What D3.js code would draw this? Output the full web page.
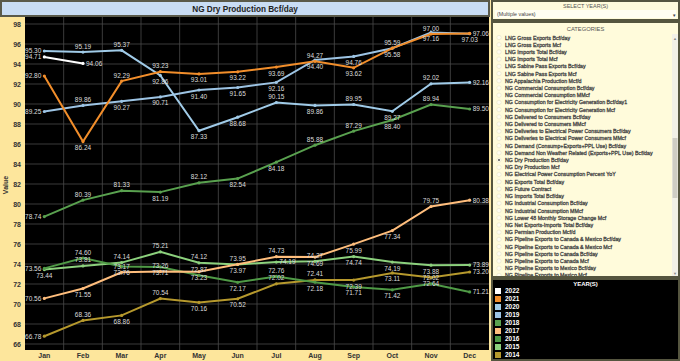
<!DOCTYPE html>
<html>
<head>
<meta charset="utf-8">
<script src="https://cdn.jsdelivr.net/npm/d3@7"></script>
<style>
    body { margin: 0; background: #fde9a6; }
    #chart { width: 680px; height: 361px; }
    text { font-family: Arial, "Liberation Sans", sans-serif; }
</style>
</head>
<body>
<div id="chart"></div>
<script>
// ---- data ----
const months = ["Jan", "Feb", "Mar", "Apr", "May", "Jun", "Jul", "Aug", "Sep", "Oct", "Nov", "Dec"];
const years = ["2022", "2021", "2020", "2019", "2018", "2017", "2016", "2015", "2014"];

const production2022 = [94.71, 94.06];
const production2021 = [92.80, 86.24, 92.29, 93.23, 93.01, 93.22, 93.69, 94.27, 93.62, 95.59, 97.00, 97.06];
const production2020 = [95.30, 95.19, 95.37, 92.86, 87.33, 88.68, 90.15, 89.86, 89.95, 89.27, 92.02, 92.16];
const production2019 = [89.25, 89.86, 90.27, 90.71, 91.40, 91.65, 92.16, 94.40, 94.76, 95.58, 97.16, 97.03];
const production2018 = [78.74, 80.39, 81.33, 81.19, 82.12, 82.54, 84.18, 85.88, 87.29, 88.40, 89.94, 89.50];
const production2017 = [70.56, 71.55, 73.17, 73.26, 73.23, 73.97, 74.73, 74.69, 75.99, 77.34, 79.75, 80.38];
const production2016 = [73.56, 74.60, 73.76, 73.71, 72.87, 72.17, 72.76, 72.18, 71.71, 71.42, 72.02, 71.21];
const production2015 = [73.44, 73.81, 74.14, 75.21, 74.12, 73.95, 74.19, 74.27, 74.74, 74.19, 73.88, 73.89];
const production2014 = [66.78, 68.36, 68.86, 70.54, 70.16, 70.52, 72.02, 72.41, 72.39, 73.11, 72.64, 73.20];

const yTicks = [66, 68, 70, 72, 74, 76, 78, 80, 82, 84, 86, 88, 90, 92, 94, 96, 98];

const categories = [
    "LNG Gross Exports Bcf/day", "LNG Gross Exports Mcf", "LNG Imports Total Bcf/day", "LNG Imports Total Mcf",
    "LNG Sabine Pass Exports Bcf/day", "LNG Sabine Pass Exports Mcf", "NG Appalachia Production Mcf/d",
    "NG Commercial Consumption Bcf/day", "NG Commercial Consumption MMcf",
    "NG Consumption for Electricity Generation Bcf/day1", "NG Consumption for Electricity Generation Mcf",
    "NG Delivered to Consumers Bcf/day", "NG Delivered to Consumers MMcf",
    "NG Deliveries to Electrical Power Consumers Bcf/day", "NG Deliveries to Electrical Power Consumers MMcf",
    "NG Demand (Consump+Exports+PPL Use) Bcf/day", "NG Demand Non Weather Related (Exports+PPL Use) Bcf/day",
    "NG Dry Production Bcf/day", "NG Dry Production Mcf", "NG Electrical Power Consumption Percent YoY",
    "NG Exports Total Bcf/day", "NG Future Contract", "NG Imports Total Bcf/day",
    "NG Industrial Consumption Bcf/day", "NG Industrial Consumption MMcf", "NG Lower 48 Monthly Storage Change Mcf",
    "NG Net Exports-Imports Total Bcf/day", "NG Permian Production Mcf/d",
    "NG Pipeline Exports to Canada & Mexico Bcf/day", "NG Pipeline Exports to Canada & Mexico Mcf",
    "NG Pipeline Exports to Canada Bcf/day", "NG Pipeline Exports to Canada Mcf",
    "NG Pipeline Exports to Mexico Bcf/day", "NG Pipeline Exports to Mexico Mcf"
];
const selectedCategory = "NG Dry Production Bcf/day";

const seriesValues = [production2022, production2021, production2020, production2019, production2018,
    production2017, production2016, production2015, production2014];
const yearColors = ["#ffffff", "#f28e2b", "#a0cbe8", "#9dc4e4", "#59a14f", "#ffbe7d", "#4f9a46", "#8cd17d", "#b6992d"];

class productionDashboard {
    constructor(parentElement) {
        this.parentElement = parentElement;
        this.initVis();
    }

    initVis() {
        let vis = this;

        vis.plot = {left: 25, right: 489, top: 17, bottom: 350};

        vis.svg = d3.select("#" + vis.parentElement).append("svg")
            .attr("width", 680)
            .attr("height", 361);

        // left panel + yellow axis strips
        vis.svg.append("rect")
            .attr("x", 0).attr("y", 0).attr("width", 490).attr("height", 361)
            .attr("fill", "#fde69c");
        vis.svg.append("rect")
            .attr("x", vis.plot.left).attr("y", vis.plot.top)
            .attr("width", vis.plot.right - vis.plot.left)
            .attr("height", vis.plot.bottom - vis.plot.top)
            .attr("fill", "#000");

        // title bar
        vis.svg.append("rect")
            .attr("x", 1).attr("y", 1).attr("width", 488).attr("height", 15)
            .attr("fill", "#c9ddf4")
            .attr("stroke", "#5a5a4a").attr("stroke-width", 2);
        vis.svg.append("text")
            .attr("x", 245).attr("y", 11.8)
            .attr("text-anchor", "middle")
            .style("font-size", "8.2px").style("font-weight", "bold")
            .attr("fill", "#222")
            .text("NG Dry Production Bcf/day");

        // scales
        vis.xScale = d3.scaleBand().domain(months).range([vis.plot.left, vis.plot.right]);
        vis.yScale = d3.scaleLinear().domain([65.4, 98.7]).range([vis.plot.bottom, vis.plot.top]);

        // grid
        vis.svg.append("g").selectAll("line")
            .data(yTicks).enter().append("line")
            .attr("x1", vis.plot.left).attr("x2", vis.plot.right)
            .attr("y1", d => vis.yScale(d)).attr("y2", d => vis.yScale(d))
            .attr("stroke", "#4a4a4a").attr("stroke-width", 0.8);
        vis.svg.append("g").selectAll("line")
            .data(months.slice(1)).enter().append("line")
            .attr("x1", d => vis.xScale(d)).attr("x2", d => vis.xScale(d))
            .attr("y1", vis.plot.top).attr("y2", vis.plot.bottom)
            .attr("stroke", "#4a4a4a").attr("stroke-width", 0.8);

        // axes
        let yAxis = vis.svg.append("g")
            .attr("transform", `translate(${vis.plot.left},0)`)
            .call(d3.axisLeft(vis.yScale).tickValues(yTicks).tickSize(0).tickPadding(4));
        let xAxis = vis.svg.append("g")
            .attr("transform", `translate(0,${vis.plot.bottom})`)
            .call(d3.axisBottom(vis.xScale).tickSize(0).tickPadding(3));
        [yAxis, xAxis].forEach(ax => {
            ax.select(".domain").remove();
            ax.selectAll("text")
                .style("font-size", "7px").style("font-weight", "bold")
                .style("font-family", "Arial, 'Liberation Sans', sans-serif")
                .attr("fill", "#333");
        });

        vis.svg.append("text")
            .attr("transform", "rotate(-90)")
            .attr("x", -185).attr("y", 8)
            .attr("text-anchor", "middle")
            .style("font-size", "7px").style("font-weight", "bold")
            .attr("fill", "#333")
            .text("Value");

        vis.drawPanels();
        vis.wrangleData();
    }

    drawPanels() {
        let vis = this;
        let px = 492, pw = 187, border = "#55553f";

        // select year(s)
        vis.svg.append("rect")
            .attr("x", px).attr("y", 1).attr("width", pw).attr("height", 19)
            .attr("fill", "#fffbdb").attr("stroke", border).attr("stroke-width", 2);
        vis.svg.append("text")
            .attr("x", px + pw / 2).attr("y", 7.5).attr("text-anchor", "middle")
            .style("font-size", "5.5px").attr("fill", "#555")
            .text("SELECT YEAR(S)");
        vis.svg.append("rect")
            .attr("x", px + 3).attr("y", 10).attr("width", pw - 6).attr("height", 8)
            .attr("fill", "#fffef2");
        vis.svg.append("text")
            .attr("x", px + 5).attr("y", 16).style("font-size", "5.3px").attr("fill", "#444")
            .text("(Multiple values)");
        vis.svg.append("text")
            .attr("x", px + pw - 7).attr("y", 16.5).style("font-size", "4.5px").attr("fill", "#444")
            .text("▼");

        // categories
        vis.svg.append("rect")
            .attr("x", px).attr("y", 22).attr("width", pw).attr("height", 255)
            .attr("fill", "#fffbdb").attr("stroke", border).attr("stroke-width", 2);
        vis.svg.append("text")
            .attr("x", px + pw / 2).attr("y", 31).attr("text-anchor", "middle")
            .style("font-size", "5.8px").attr("fill", "#555")
            .text("CATEGORIES");

        vis.svg.append("clipPath").attr("id", "catClip")
            .append("rect").attr("x", px).attr("y", 33).attr("width", pw).attr("height", 243);

        let itemY = d3.scaleLinear().domain([0, 1]).range([37.5, 44.71]);
        let items = vis.svg.append("g").attr("clip-path", "url(#catClip)")
            .selectAll("g").data(categories).enter().append("g")
            .attr("transform", (d, i) => `translate(0,${itemY(i)})`);
        items.append("circle")
            .attr("cx", px + 7).attr("cy", 0).attr("r", 2.2)
            .attr("fill", "#fffdf0").attr("stroke", "#e6e2c8").attr("stroke-width", 0.6);
        items.filter(d => d === selectedCategory).append("circle")
            .attr("cx", px + 7).attr("cy", 0).attr("r", 1)
            .attr("fill", "#555");
        items.append("text")
            .attr("x", px + 13).attr("y", 2)
            .style("font-size", "5.3px")
            .attr("fill", "#444")
            .attr("stroke", "#444").attr("stroke-width", 0.28)
            .text(d => d);

        // scrollbar
        vis.svg.append("rect")
            .attr("x", 672).attr("y", 34).attr("width", 6).attr("height", 242)
            .attr("fill", "#f2f0e6");
        vis.svg.append("rect")
            .attr("x", 672.5).attr("y", 138).attr("width", 5).attr("height", 60)
            .attr("fill", "#cfcdc4");
        vis.svg.append("text").attr("x", 675).attr("y", 40).attr("text-anchor", "middle")
            .style("font-size", "4px").attr("fill", "#888").text("▲");
        vis.svg.append("text").attr("x", 675).attr("y", 275).attr("text-anchor", "middle")
            .style("font-size", "4px").attr("fill", "#888").text("▼");

        // year legend
        vis.svg.append("rect")
            .attr("x", px).attr("y", 279).attr("width", pw).attr("height", 81)
            .attr("fill", "#000").attr("stroke", border).attr("stroke-width", 2);
        vis.svg.append("text")
            .attr("x", px + pw / 2).attr("y", 286).attr("text-anchor", "middle")
            .style("font-size", "6px").style("font-weight", "bold").attr("fill", "#fff")
            .text("YEAR(S)");

        let legY = d3.scaleLinear().domain([0, 1]).range([291, 299]);
        let leg = vis.svg.append("g").selectAll("g")
            .data(years).enter().append("g")
            .attr("transform", (d, i) => `translate(${px + 3},${legY(i)})`);
        leg.append("rect")
            .attr("x", 0).attr("y", -3).attr("width", 6).attr("height", 6)
            .attr("fill", (d, i) => yearColors[i]);
        leg.append("text")
            .attr("x", 10).attr("y", 2.4)
            .style("font-size", "6.5px").style("font-weight", "bold").attr("fill", "#fff")
            .text(d => d);
    }

    wrangleData() {
        let vis = this;

        // newest year first (label priority); lines get drawn oldest first
        vis.displayData = years.map((year, i) => ({
            year: year,
            color: yearColors[i],
            points: seriesValues[i].map((v, j) => ({month: months[j], value: v}))
        }));

        vis.updateVis();
    }

    // order of places to try for a label
    labelCandidates(points, i) {
        if (i === 0) return ["left", "above", "below"];
        if (i === points.length - 1) return ["right", "above", "below"];
        let avg = (points[i - 1].value + points[i + 1].value) / 2;
        return points[i].value >= avg ? ["above", "below", "right"] : ["below", "above", "right"];
    }

    updateVis() {
        let vis = this;
        let cx = d => vis.xScale(d.month) + vis.xScale.bandwidth() / 2;

        vis.line = d3.line()
            .x(cx)
            .y(d => vis.yScale(d.value));

        let series = vis.svg.append("g").selectAll(".series")
            .data(vis.displayData.slice().reverse()).enter().append("g")
            .attr("class", "series");

        series.append("path")
            .attr("class", "line")
            .attr("fill", "none")
            .attr("stroke", d => d.color)
            .attr("stroke-width", 2)
            .attr("d", d => vis.line(d.points));

        series.selectAll(".dot")
            .data(d => d.points.map(p => ({...p, color: d.color})))
            .enter().append("circle")
            .attr("class", "dot")
            .attr("cx", cx)
            .attr("cy", d => vis.yScale(d.value))
            .attr("r", 1.6)
            .attr("fill", d => d.color);

        // value labels, simple greedy placement to keep them apart
        let labels = vis.svg.append("g");
        let placed = [];
        let w = 16.5, h = 5.6;
        let spot = (pos, x, y) => {
            if (pos === "left") return {x: x - 3, y: y + 2.3, anchor: "end", x0: x - 3 - w, x1: x - 3};
            if (pos === "right") return {x: x + 3, y: y + 2.3, anchor: "start", x0: x + 3, x1: x + 3 + w};
            if (pos === "above") return {x: x, y: y - 3.5, anchor: "middle", x0: x - w / 2, x1: x + w / 2};
            return {x: x, y: y + 8.5, anchor: "middle", x0: x - w / 2, x1: x + w / 2};
        };
        let clash = s => placed.some(b => s.x0 < b.x1 && s.x1 > b.x0 && s.y - h < b.y && s.y > b.y - h);

        vis.displayData.forEach(s => {
            s.points.forEach((p, i) => {
                let x = cx(p), y = vis.yScale(p.value);
                let options = vis.labelCandidates(s.points, i).map(pos => spot(pos, x, y));
                let choice = options.find(o => !clash(o)) || options[0];
                placed.push(choice);
                labels.append("text")
                    .attr("x", choice.x).attr("y", choice.y)
                    .attr("text-anchor", choice.anchor)
                    .style("font-size", "6.5px")
                    .attr("fill", "#dcdcdc")
                    .text(p.value.toFixed(2));
            });
        });
    }
}

new productionDashboard("chart");
</script>
</body>
</html>
